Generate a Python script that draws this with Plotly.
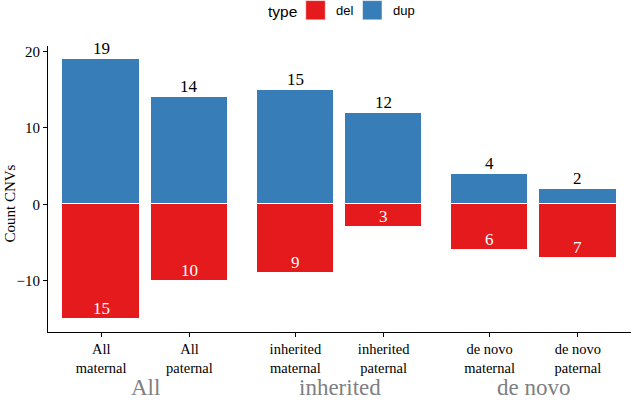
import plotly.graph_objects as go

# ---- data ----
groups = ["All", "All", "inherited", "inherited", "de novo", "de novo"]
parents = ["maternal", "paternal", "maternal", "paternal", "maternal", "paternal"]
categories = [f"{g}<br>{p}" for g, p in zip(groups, parents)]
dup_counts = [19, 14, 15, 12, 4, 2]
del_counts = [15, 10, 9, 3, 6, 7]
group_names = ["All", "inherited", "de novo"]
legend_title = "type"
legend_names = ["del", "dup"]
y_ticks = [-10, 0, 10, 20]
y_tick_labels = ["\u221210", "0", "10", "20"]

RED = "#E41A1C"
BLUE = "#377EB8"
SERIF = "Liberation Serif, Times New Roman, serif"
SANS = "Liberation Sans, Arial, sans-serif"

W, H = 631, 401
L, R, T, B = 47.5, 0, 46, 69
PW, PH = W - L - R, H - T - B


def px_x(p):
    return (p - L) / PW


def px_y(p):
    return (H - B - p) / PH


# numeric positions: one unit per bar, extra gap between groups
group_index = [group_names.index(g) for g in groups]
xpos = [i + 1 + 0.2 * gi for i, gi in enumerate(group_index)]
del_vals = [-v for v in del_counts]

fig = go.Figure()
fig.add_trace(go.Bar(x=xpos, y=del_vals, name=legend_names[0],
                     marker=dict(color=RED, line=dict(color="white", width=1)),
                     width=0.88, hoverinfo="skip", showlegend=False))
fig.add_trace(go.Bar(x=xpos, y=dup_counts, name=legend_names[1],
                     marker=dict(color=BLUE, line=dict(color="white", width=1)),
                     width=0.88, hoverinfo="skip", showlegend=False))

annotations = []
for x, v in zip(xpos, dup_counts):
    annotations.append(dict(x=x, y=v, xref="x", yref="y", text=str(v), showarrow=False,
                            yanchor="bottom", xanchor="center", yshift=-1,
                            font=dict(family=SERIF, size=17, color="black")))
for x, v in zip(xpos, del_vals):
    annotations.append(dict(x=x, y=v, xref="x", yref="y", text=str(-v), showarrow=False,
                            yanchor="bottom", xanchor="center", yshift=-1,
                            font=dict(family=SERIF, size=17, color="white")))
for gname in group_names:
    xs = [x for x, g in zip(xpos, groups) if g == gname]
    annotations.append(dict(x=sum(xs) / len(xs), y=px_y(401), xref="x", yref="paper", text=gname,
                            showarrow=False, yanchor="bottom", xanchor="center", borderpad=0,
                            font=dict(family=SERIF, size=23, color="#7f7f7f")))

# y-axis title
annotations.append(dict(x=px_x(9), y=px_y(204), xref="paper", yref="paper", text="Count CNVs",
                        textangle=-90, showarrow=False, xanchor="center", yanchor="middle",
                        font=dict(family=SERIF, size=15, color="black")))

# legend drawn by hand (ggplot style, large keys)
shapes = []
annotations.append(dict(x=px_x(266), y=px_y(11), xref="paper", yref="paper", text=legend_title,
                        showarrow=False, xanchor="left", yanchor="middle",
                        font=dict(family=SANS, size=15.5, color="black")))
key_left = [305.5, 362.3]
for name, color, kx in zip(legend_names, [RED, BLUE], key_left):
    shapes.append(dict(type="rect", xref="paper", yref="paper",
                       x0=px_x(kx), x1=px_x(kx + 19.5), y0=px_y(19.8), y1=px_y(0.6),
                       fillcolor=color, line=dict(color="white", width=0.5)))
    annotations.append(dict(x=px_x(kx + 28.5), y=px_y(10.8), xref="paper", yref="paper", text=name,
                            showarrow=False, xanchor="left", yanchor="middle",
                            font=dict(family=SANS, size=13, color="black")))

fig.update_layout(
    width=W, height=H,
    margin=dict(l=L, r=R, t=T, b=B, autoexpand=False),
    paper_bgcolor="white", plot_bgcolor="white",
    barmode="relative", bargap=0,
    showlegend=False,
    xaxis=dict(range=[0.3975, 7.0025], tickmode="array", tickvals=xpos, ticktext=categories,
               automargin=False,
               showgrid=False, zeroline=False, showline=True, linecolor="black", linewidth=1,
               ticks="outside", ticklen=4, tickcolor="black",
               tickfont=dict(family=SERIF, size=14.5, color="black")),
    yaxis=dict(range=[-16.7, 20.72], tickmode="array", tickvals=y_ticks, ticktext=y_tick_labels,
               automargin=False,
               showgrid=False, zeroline=False, showline=True, linecolor="black", linewidth=1,
               ticks="outside", ticklen=4, tickcolor="black",
               tickfont=dict(family=SERIF, size=15, color="black")),
    annotations=annotations,
    shapes=shapes,
)

fig.write_html("out.html", config={"displayModeBar": False},
               post_script="document.body.style.margin='0';")
